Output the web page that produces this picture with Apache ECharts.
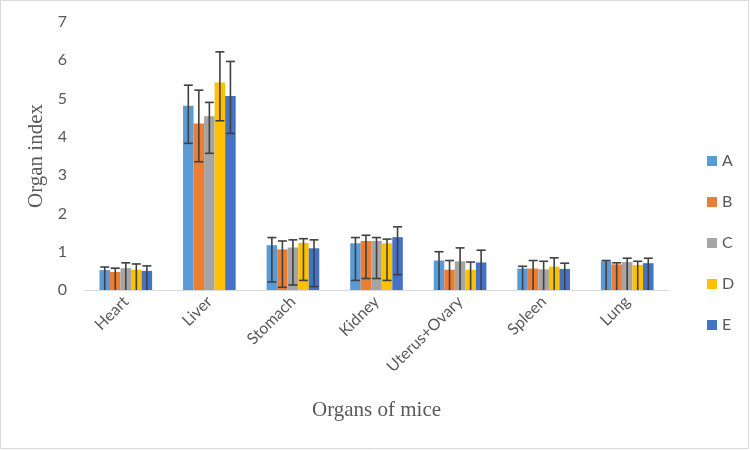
<!DOCTYPE html>
<html>
<head>
<meta charset="utf-8">
<script src="https://cdn.jsdelivr.net/npm/echarts@6/dist/echarts.min.js"></script>
<style>
  html, body { margin: 0; padding: 0; background: #fff; }
  #chart { width: 750px; height: 450px; }
</style>
</head>
<body>
<div id="chart"></div>
<script>
var organs = ["Heart", "Liver", "Stomach", "Kidney", "Uterus+Ovary", "Spleen", "Lung"];
var groups = ["A", "B", "C", "D", "E"];
var colors = ["#5b9bd5", "#ed7d31", "#a5a5a5", "#ffc000", "#4472c4"];
var yTicks = [0, 1, 2, 3, 4, 5, 6, 7];

// mean values
var valA = [0.52, 4.81, 1.17, 1.22, 0.77, 0.56, 0.75];
var valB = [0.47, 4.35, 1.06, 1.28, 0.53, 0.56, 0.67];
var valC = [0.57, 4.54, 1.11, 1.28, 0.75, 0.54, 0.73];
var valD = [0.53, 5.42, 1.23, 1.22, 0.53, 0.61, 0.65];
var valE = [0.50, 5.07, 1.09, 1.38, 0.72, 0.55, 0.70];

// error bar ends (upper)
var hiA = [0.60, 5.35, 1.37, 1.37, 1.00, 0.62, 0.77];
var hiB = [0.57, 5.22, 1.28, 1.43, 0.77, 0.77, 0.71];
var hiC = [0.71, 4.90, 1.31, 1.37, 1.10, 0.75, 0.83];
var hiD = [0.68, 6.22, 1.34, 1.33, 0.73, 0.84, 0.75];
var hiE = [0.63, 5.97, 1.31, 1.65, 1.04, 0.70, 0.83];

// error bar ends (lower)
var loA = [0, 3.83, 0.21, 0.25, 0, 0, 0];
var loB = [0, 3.35, 0.07, 0.30, 0, 0, 0];
var loC = [0, 3.57, 0.13, 0.30, 0, 0, 0];
var loD = [0, 4.42, 0.25, 0.25, 0, 0, 0];
var loE = [0, 4.09, 0.09, 0.40, 0, 0, 0];

var vals = [valA, valB, valC, valD, valE];
var his = [hiA, hiB, hiC, hiD, hiE];
var los = [loA, loB, loC, loD, loE];

var CAT_GAP = 0.37;
var myChart = echarts.init(document.getElementById("chart"));

function errorSeries(k) {
    var data = organs.map(function (o, i) { return [i, los[k][i], his[k][i]]; });
    return {
        type: "custom",
        name: groups[k] + " err",
        silent: true,
        z: 10,
        renderItem: function (params, api) {
            var band = api.size([1, 0])[0];
            var bw = band * (1 - CAT_GAP) / groups.length;
            var off = (k - (groups.length - 1) / 2) * bw;
            var lo = api.coord([api.value(0), api.value(1)]);
            var hi = api.coord([api.value(0), api.value(2)]);
            var x = lo[0] + off;
            var cap = 4.5;
            var st = { stroke: "#404040", lineWidth: 1.6 };
            var kids = [
                { type: "line", shape: { x1: x, y1: hi[1], x2: x, y2: lo[1] }, style: st },
                { type: "line", shape: { x1: x - cap, y1: hi[1], x2: x + cap, y2: hi[1] }, style: st }
            ];
            if (api.value(1) > 0.01) {
                kids.push({ type: "line", shape: { x1: x - cap, y1: lo[1], x2: x + cap, y2: lo[1] }, style: st });
            }
            return { type: "group", children: kids };
        },
        data: data
    };
}

var series = [];
groups.forEach(function (g, k) {
    series.push({
        name: g,
        type: "bar",
        data: vals[k],
        barGap: "0%",
        barCategoryGap: (CAT_GAP * 100) + "%",
        itemStyle: { color: colors[k] }
    });
});
groups.forEach(function (g, k) { series.push(errorSeries(k)); });

option = {
    animation: false,
    color: colors,
    textStyle: { fontFamily: "Lato" },
    grid: { left: 84, right: 81, top: 22, bottom: 160 },
    legend: {
        data: groups,
        orient: "vertical",
        left: 702,
        top: 148,
        itemWidth: 10,
        itemHeight: 10,
        itemGap: 25,
        icon: "rect",
        textStyle: { fontSize: 16, color: "#595959", fontFamily: "Lato" }
    },
    xAxis: {
        type: "category",
        data: organs,
        name: "Organs of mice",
        nameLocation: "middle",
        nameGap: 110,
        nameTextStyle: { fontFamily: "Liberation Serif", fontSize: 21, color: "#595959" },
        axisLine: { lineStyle: { color: "#d9d9d9", width: 1 } },
        axisTick: { show: false },
        axisLabel: { rotate: 45, margin: 9, fontSize: 16, color: "#595959", fontFamily: "Lato" }
    },
    yAxis: {
        type: "value",
        min: yTicks[0],
        max: yTicks[yTicks.length - 1],
        interval: 1,
        name: "Organ index",
        nameLocation: "middle",
        nameGap: 36,
        nameTextStyle: { fontFamily: "Liberation Serif", fontSize: 21, color: "#595959" },
        axisLine: { show: false },
        axisTick: { show: false },
        splitLine: { show: false },
        axisLabel: { margin: 17, fontSize: 16, color: "#595959", fontFamily: "Lato" }
    },
    graphic: [{
        type: "rect",
        shape: { x: 0.5, y: 0.5, width: 748, height: 448 },
        style: { fill: null, stroke: "#d9d9d9", lineWidth: 1 },
        silent: true
    }],
    series: series
};
myChart.setOption(option, true);
</script>
</body>
</html>
